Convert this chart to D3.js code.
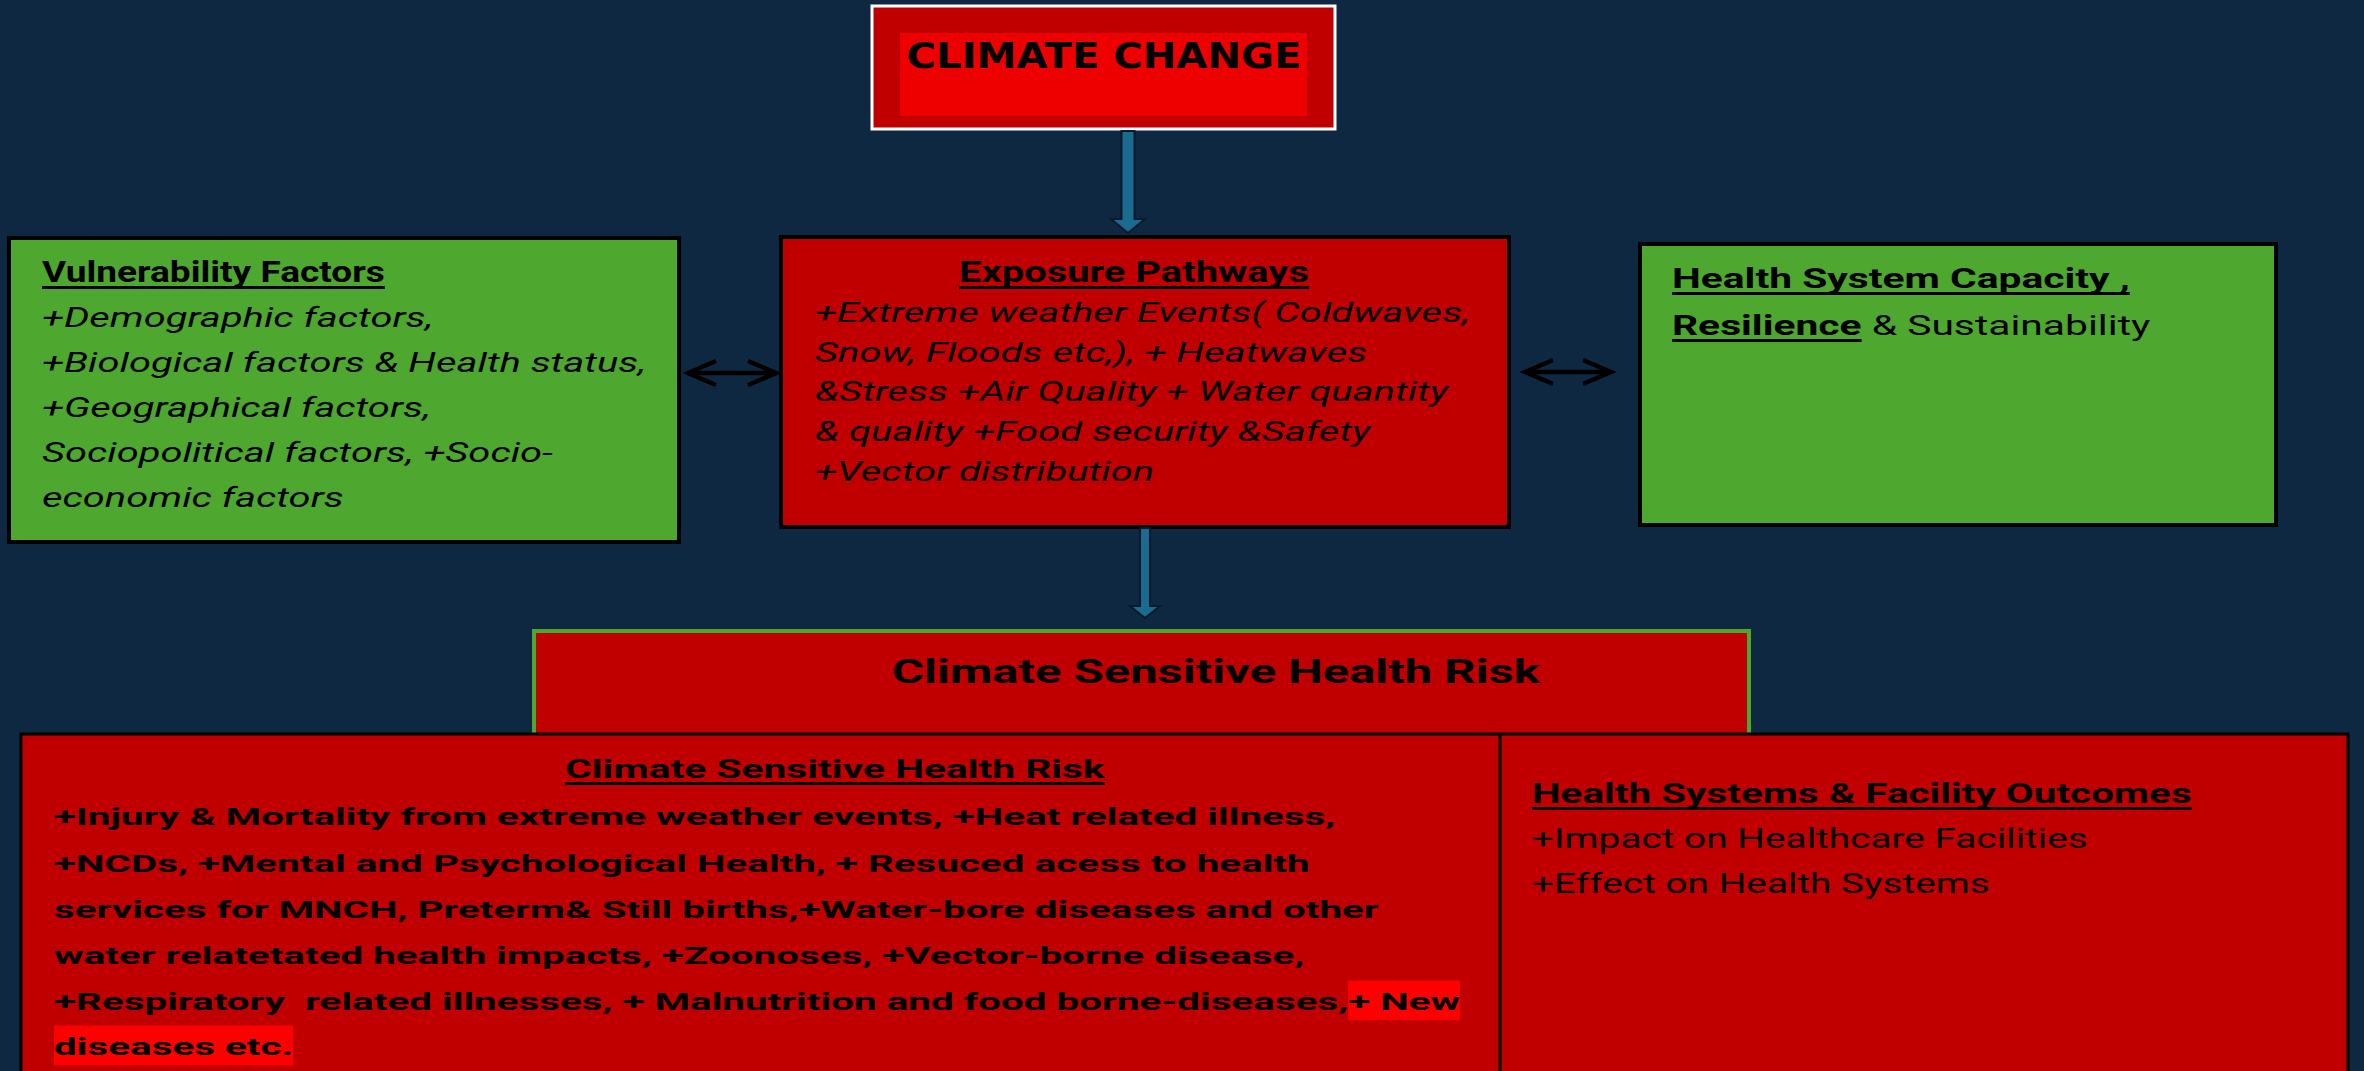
<!DOCTYPE html>
<html>
<head>
<meta charset="utf-8">
<script src="https://cdn.jsdelivr.net/npm/d3@7"></script>
<style>
  html, body { margin: 0; padding: 0; background: #0e2841; }
  svg { display: block; }
  text { white-space: pre; font-variant-ligatures: none; }
</style>
</head>
<body>
<div id="chart"></div>
<script>
(function() {
    /********************************************
     * TEXT CONTENT
     ********************************************/
    const topTitle = ["CLIMATE CHANGE"];

    const vulnTitle = ["Vulnerability Factors"];
    const vulnItems = [
        "+Demographic factors,",
        "+Biological factors & Health status,",
        "+Geographical factors,",
        "Sociopolitical factors, +Socio-",
        "economic factors"
    ];

    const exposureTitle = ["Exposure Pathways"];
    const exposureItems = [
        "+Extreme weather Events( Coldwaves,",
        "Snow, Floods etc,), + Heatwaves",
        "&Stress +Air Quality + Water quantity",
        "& quality +Food security &Safety",
        "+Vector distribution"
    ];

    // segments: t = text, b = bold, u = underline, hl = highlighted
    const capacityLines = [
        [{ t: "Health System Capacity ,", b: true, u: true }],
        [{ t: "Resilience", b: true, u: true }, { t: " & Sustainability" }]
    ];

    const riskHeader = ["Climate Sensitive Health Risk"];
    const riskTitle = ["Climate Sensitive Health Risk"];
    const riskItems = [
        [{ t: "+Injury & Mortality from extreme weather events, +Heat related illness," }],
        [{ t: "+NCDs, +Mental and Psychological Health, + Resuced acess to health" }],
        [{ t: "services for MNCH, Preterm& Still births,+Water-bore diseases and other" }],
        [{ t: "water relatetated health impacts, +Zoonoses, +Vector-borne disease," }],
        [{ t: "+Respiratory  related illnesses, + Malnutrition and food borne-diseases," }, { t: "+ New", hl: true }],
        [{ t: "diseases etc.", hl: true }]
    ];

    const outcomeTitle = ["Health Systems & Facility Outcomes"];
    const outcomeItems = ["+Impact on Healthcare Facilities", "+Effect on Health Systems"];

    /********************************************
     * LAYOUT
     ********************************************/
    const width = 2364;
    const height = 1071;
    const bg = "#0e2841";
    const red = "#c00000";
    const brightRed = "#ee0000";
    const green = "#4ea72e";
    const teal = "#1b6a90";
    const bodyFont = "Roboto, 'Open Sans', sans-serif";

    const svg = d3.select("#chart").append("svg")
        .attr("width", width)
        .attr("height", height)
        .attr("viewBox", `0 0 ${width} ${height}`);

    svg.append("rect").attr("width", width).attr("height", height).attr("fill", bg);

    const boxes = [
        { x: 872, y: 6, w: 463, h: 123, fill: red, stroke: "#ffffff", sw: 3 },
        { x: 900, y: 33, w: 407, h: 83, fill: brightRed, stroke: "none", sw: 0 },
        { x: 9, y: 238, w: 670, h: 304, fill: green, stroke: "#000", sw: 4 },
        { x: 781, y: 237, w: 728, h: 290, fill: red, stroke: "#000", sw: 4 },
        { x: 1640, y: 244, w: 636, h: 281, fill: green, stroke: "#000", sw: 4 },
        { x: 534, y: 631, w: 1215, h: 110, fill: red, stroke: green, sw: 4 },
        { x: 21, y: 734, w: 2327, h: 360, fill: red, stroke: "#000", sw: 3 }
    ];

    svg.append("g").selectAll("rect")
        .data(boxes)
        .join("rect")
        .attr("x", d => d.x).attr("y", d => d.y)
        .attr("width", d => d.w).attr("height", d => d.h)
        .attr("fill", d => d.fill)
        .attr("stroke", d => d.stroke)
        .attr("stroke-width", d => d.sw);

    // divider in the bottom box
    svg.append("line")
        .attr("x1", 1500).attr("x2", 1500)
        .attr("y1", 734).attr("y2", height)
        .attr("stroke", "#000").attr("stroke-width", 3);

    /********************************************
     * ARROWS
     ********************************************/
    function downArrow(cx, y1, y2, shaft, head, headLen) {
        const p = d3.path();
        p.moveTo(cx - shaft / 2, y1);
        p.lineTo(cx + shaft / 2, y1);
        p.lineTo(cx + shaft / 2, y2 - headLen);
        p.lineTo(cx + head, y2 - headLen);
        p.lineTo(cx, y2);
        p.lineTo(cx - head, y2 - headLen);
        p.lineTo(cx - shaft / 2, y2 - headLen);
        p.closePath();
        svg.append("path")
            .attr("d", p.toString())
            .attr("fill", teal)
            .attr("stroke", "#081a2c")
            .attr("stroke-width", 2);
    }
    downArrow(1128, 131, 233, 13, 17, 14);
    downArrow(1145, 528, 618, 10, 15, 12);

    function doubleArrow(x1, x2, y) {
        const g = svg.append("g")
            .attr("fill", "none")
            .attr("stroke", "#000")
            .attr("stroke-width", 4.5)
            .attr("stroke-linecap", "butt");
        g.append("line").attr("x1", x1 + 2).attr("x2", x2 - 2).attr("y1", y).attr("y2", y);
        g.append("path").attr("d", `M${x1 + 30},${y - 12}L${x1 + 2},${y}L${x1 + 30},${y + 12}`);
        g.append("path").attr("d", `M${x2 - 30},${y - 12}L${x2 - 2},${y}L${x2 - 30},${y + 12}`);
    }
    doubleArrow(686, 778, 373);
    doubleArrow(1523, 1613, 372);

    /********************************************
     * TEXT BLOCKS (stretched horizontally to match widths)
     ********************************************/
    const toSegs = line => (typeof line === "string") ? [{ t: line }] : line;

    function textBlock(lines, opt) {
        const g = svg.append("g");
        const rows = lines.map((line, i) => {
            const row = g.append("g");
            const txt = row.append("text")
                .attr("x", 0).attr("y", 0)
                .attr("text-anchor", opt.anchor || "start")
                .style("font-family", opt.font || bodyFont)
                .style("font-size", opt.size + "px")
                .style("font-style", opt.italic ? "italic" : "normal")
                .style("font-weight", opt.bold ? "bold" : "normal")
                .attr("fill", "#000");
            const segs = toSegs(line);
            segs.forEach(s => {
                txt.append("tspan")
                    .text(s.t)
                    .style("font-weight", s.b || opt.bold ? "bold" : "normal");
            });
            return { row, txt, segs, baseline: opt.baselines[i] };
        });

        const refLen = rows[opt.ref || 0].txt.node().getComputedTextLength();
        const sx = opt.target / refLen;

        rows.forEach(r => {
            r.row.attr("transform", `translate(${opt.x},${r.baseline}) scale(${sx},1)`);
            const node = r.txt.node();
            let idx = 0;
            r.segs.forEach(s => {
                const n = s.t.length;
                const start = node.getStartPositionOfChar(idx).x;
                const len = node.getSubStringLength(idx, n);
                if (s.hl) {
                    r.row.insert("rect", "text")
                        .attr("x", start).attr("y", -opt.size * 1.2)
                        .attr("width", len).attr("height", opt.size * 1.62)
                        .attr("fill", "#ff0000");
                }
                if (s.u || opt.underline) {
                    r.row.append("rect")
                        .attr("x", start).attr("y", 4)
                        .attr("width", len).attr("height", 3)
                        .attr("fill", "#000");
                }
                idx += n;
            });
        });
    }

    textBlock(topTitle, {
        x: 1104, anchor: "middle", baselines: [68], size: 35, bold: true,
        font: "'DejaVu Sans', sans-serif", target: 395
    });

    textBlock(vulnTitle, { x: 42, baselines: [282], size: 30, bold: true, underline: true, target: 343 });
    textBlock(vulnItems, {
        x: 42, baselines: [327, 372, 417, 462, 507], size: 27, italic: true, target: 604, ref: 1
    });

    textBlock(exposureTitle, {
        x: 1134, anchor: "middle", baselines: [282], size: 29, bold: true, underline: true, target: 350
    });
    textBlock(exposureItems, {
        x: 815, baselines: [322, 362, 401, 441, 481], size: 27, italic: true, target: 655
    });

    textBlock(capacityLines, { x: 1672, baselines: [288, 335], size: 28, target: 458 });

    textBlock(riskHeader, {
        x: 1216, anchor: "middle", baselines: [683], size: 33, bold: true, target: 648
    });

    textBlock(riskTitle, {
        x: 835, anchor: "middle", baselines: [778], size: 25, bold: true, underline: true, target: 540
    });
    textBlock(riskItems, {
        x: 54, baselines: [825, 872, 918, 964, 1010, 1055], size: 24.5, bold: true, target: 1282
    });

    textBlock(outcomeTitle, { x: 1532, baselines: [803], size: 27, bold: true, underline: true, target: 660 });
    textBlock(outcomeItems, { x: 1532, baselines: [848, 893], size: 27, target: 556 });
})();
</script>
</body>
</html>
